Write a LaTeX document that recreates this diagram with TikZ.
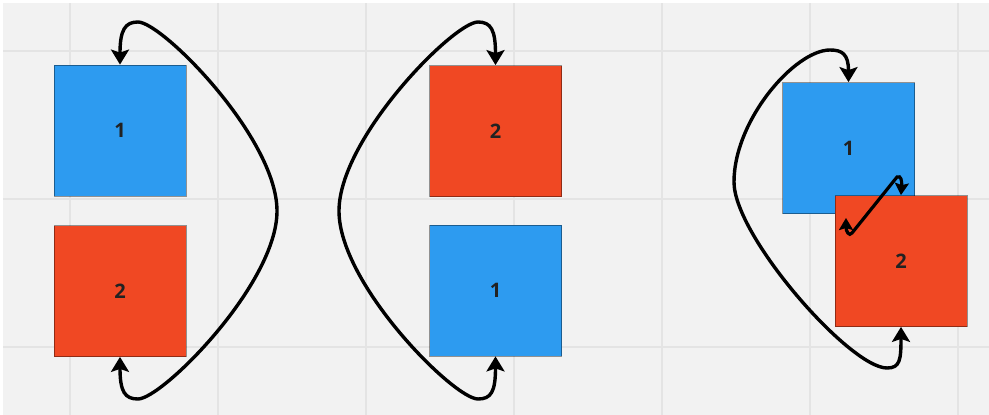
\documentclass[tikz,border=0pt]{standalone}
\usepackage{fontspec}
\newfontfamily\labelfont{Open Sans}
\usetikzlibrary{arrows.meta}

\definecolor{canvas}{HTML}{F2F2F2}
\definecolor{gridline}{HTML}{E4E4E4}
\definecolor{boxblue}{HTML}{2D9BF0}
\definecolor{boxred}{HTML}{F04823}
\definecolor{ink}{HTML}{222222}

\tikzset{
  card/.style={rectangle, inner sep=0pt, minimum width=132pt, minimum height=131pt,
    draw=black, draw opacity=0.4, line width=0.8pt, text=ink,
    font=\labelfont\bfseries\fontsize{20}{20}\selectfont},
  bluecard/.style={card, fill=boxblue},
  redcard/.style={card, fill=boxred},
  loop arrow/.style={line width=3.4pt, black,
    {Stealth[length=15pt,width=18pt,inset=3pt]}-{Stealth[length=15pt,width=18pt,inset=3pt]}},
  swap arrow/.style={line width=3.2pt, black,
    {Stealth[length=12pt,width=14pt,inset=2pt]}-{Stealth[length=12pt,width=14pt,inset=2pt]}},
  gridstroke/.style={gridline, line width=1.5pt}
}

\begin{document}
\begin{tikzpicture}[x=1pt, y=-1pt]
  % canvas with a thin white edge on top and left
  \fill[white] (0,0) rectangle (989,415);
  \fill[canvas] (3,3) rectangle (989,415);
  \useasboundingbox (0,0) rectangle (989,415);

  % background grid
  \foreach \gx in {70,218,366,514,662,810,958}
    \draw[gridstroke] (\gx,3) -- (\gx,415);
  \foreach \gy in {51,199,347}
    \draw[gridstroke] (3,\gy) -- (989,\gy);

  % left pair
  \node[bluecard] (L1) at (120,130.5) {1};
  \node[redcard]  (L2) at (120,291)   {2};

  % middle pair, swapped
  \node[redcard]  (M2) at (495.5,131)   {2};
  \node[bluecard] (M1) at (495.5,290.5) {1};

  % right pair, overlapping
  \node[bluecard] (R1) at (848.5,148) {1};
  \node[redcard]  (R2) at (901,261)   {2};

  % waypoints of the loops
  \coordinate (ltop) at (138,22);
  \coordinate (lmid) at (277,211);
  \coordinate (lbot) at (138,399);

  \coordinate (mtop) at (478,22);
  \coordinate (mmid) at (339,211);
  \coordinate (mbot) at (478,399);

  \coordinate (rtop)  at (830,50);
  \coordinate (rleft) at (734,182);
  \coordinate (rbot)  at (887,368);

  \coordinate (sa) at (897,177);
  \coordinate (sb) at (852,233);
  \coordinate (send) at (846,218);

  % left loop
  \draw[loop arrow] (L1.north) .. controls (120,30) and (125,22) .. (ltop)
    .. controls (162,22) and (277,138) .. (lmid)
    .. controls (277,284) and (162,399) .. (lbot)
    .. controls (125,399) and (120,392) .. (L2.south);

  % middle loop
  \draw[loop arrow] (M2.north) .. controls (495.5,30) and (491,22) .. (mtop)
    .. controls (454,22) and (339,138) .. (mmid)
    .. controls (339,284) and (454,399) .. (mbot)
    .. controls (491,399) and (495.5,392) .. (M1.south);

  % right loop
  \draw[loop arrow] (R1.north) .. controls (848.5,54) and (842,50) .. (rtop)
    .. controls (795,50) and (734,120) .. (rleft)
    .. controls (734,236) and (850,368) .. (rbot)
    .. controls (900,368) and (901,360) .. (R2.south);

  % short swap arrow across the overlap
  \draw[swap arrow] (R2.north) .. controls (902,181) and (901,175) .. (sa)
    -- (sb) .. controls (849,237) and (846,231) .. (send);
\end{tikzpicture}
\end{document}
